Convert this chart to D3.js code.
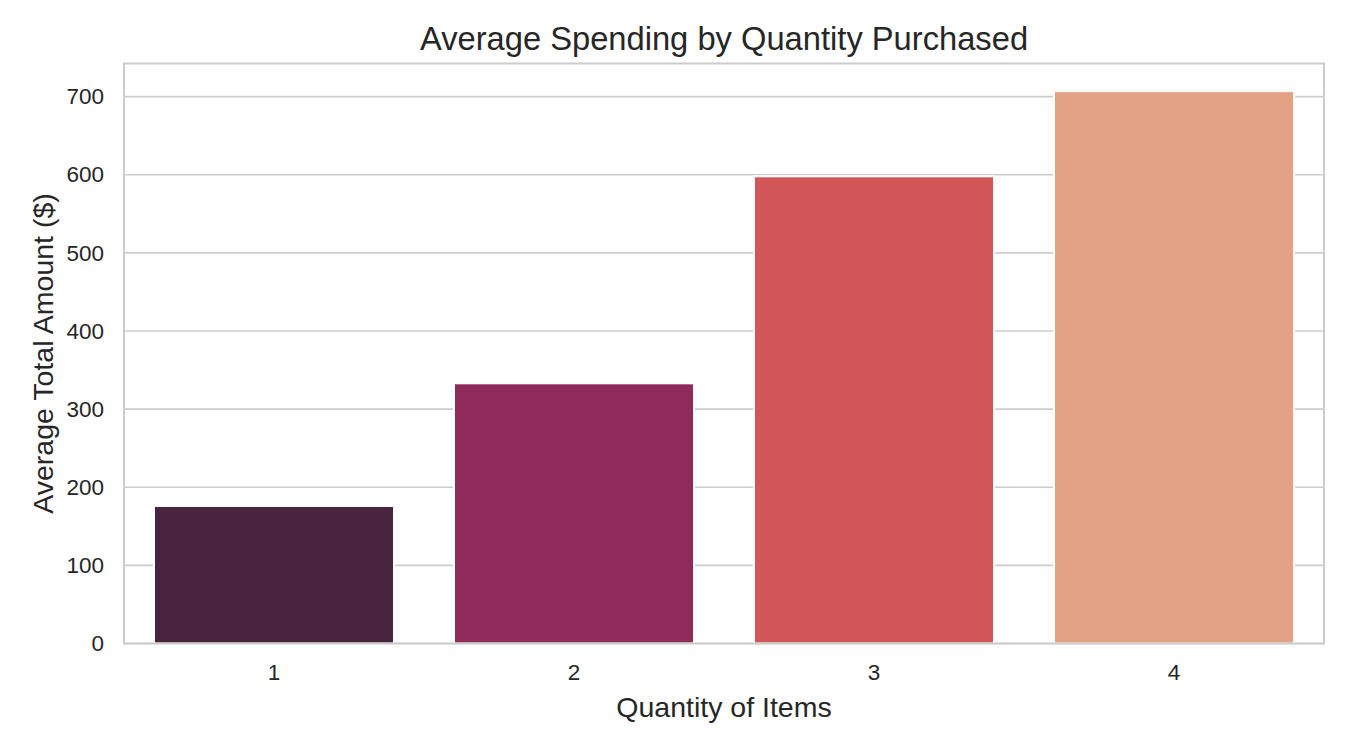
<!DOCTYPE html>
<html>
<head>
<meta charset="utf-8">
<script src="https://cdn.jsdelivr.net/npm/d3@7"></script>
<style>
  body { margin: 0; background: #fff; }
  svg text { font-family: "Liberation Sans", Arial, sans-serif; fill: #262626; }
</style>
</head>
<body>
<div id="chart"></div>
<script>
const quantities = ['1', '2', '3', '4'];
const avgAmounts = [176, 333, 598, 707];
const barColors = ['#48243f', '#8f2a5b', '#d25557', '#e3a283'];
const yTicks = [0, 100, 200, 300, 400, 500, 600, 700];

const width = 1350;
const height = 750;
const margin = { top: 63.5, right: 26, bottom: 106.5, left: 124 };
const innerW = width - margin.left - margin.right;
const innerH = height - margin.top - margin.bottom;

const svg = d3.select('#chart')
    .append('svg')
    .attr('width', width)
    .attr('height', height);

const g = svg.append('g')
    .attr('transform', `translate(${margin.left},${margin.top})`);

const xScale = d3.scaleBand()
    .domain(quantities)
    .range([0, innerW])
    .paddingInner(0.2)
    .paddingOuter(0.1);

const yScale = d3.scaleLinear()
    .domain([0, d3.max(avgAmounts) * 1.05])
    .range([innerH, 0]);

// grid lines
g.append('g')
    .selectAll('line')
    .data(yTicks)
    .enter()
    .append('line')
    .attr('x1', 0)
    .attr('x2', innerW)
    .attr('y1', d => yScale(d))
    .attr('y2', d => yScale(d))
    .attr('stroke', '#cccccc')
    .attr('stroke-width', 1.6);

// bars
g.selectAll('.bar')
    .data(avgAmounts)
    .enter()
    .append('rect')
    .attr('class', 'bar')
    .attr('x', (d, i) => xScale(quantities[i]))
    .attr('y', d => yScale(d))
    .attr('width', xScale.bandwidth())
    .attr('height', d => innerH - yScale(d))
    .attr('fill', (d, i) => barColors[i])
    .attr('stroke', '#ffffff')
    .attr('stroke-width', 2);

// spines
g.append('rect')
    .attr('x', 0)
    .attr('y', 0)
    .attr('width', innerW)
    .attr('height', innerH)
    .attr('fill', 'none')
    .attr('stroke', '#cccccc')
    .attr('stroke-width', 2);

const xAxis = d3.axisBottom(xScale).tickSize(0).tickPadding(21);
const yAxis = d3.axisLeft(yScale).tickValues(yTicks).tickSize(0).tickPadding(20);

const gx = g.append('g')
    .attr('transform', `translate(0,${innerH})`)
    .call(xAxis);
gx.select('.domain').remove();
gx.selectAll('text')
    .style('font-size', '22.5px')
    .attr('fill', '#262626');

const gy = g.append('g').call(yAxis);
gy.select('.domain').remove();
gy.selectAll('text')
    .style('font-size', '22.5px')
    .attr('fill', '#262626');

// axis labels
svg.append('text')
    .attr('x', margin.left + innerW / 2)
    .attr('y', 717)
    .attr('text-anchor', 'middle')
    .style('font-size', '28.5px')
    .text('Quantity of Items');

svg.append('text')
    .attr('transform', `translate(53,${margin.top + innerH / 2}) rotate(-90)`)
    .attr('text-anchor', 'middle')
    .style('font-size', '28.5px')
    .text('Average Total Amount ($)');

// title
svg.append('text')
    .attr('x', margin.left + innerW / 2)
    .attr('y', 50)
    .attr('text-anchor', 'middle')
    .style('font-size', '32.7px')
    .text('Average Spending by Quantity Purchased');
</script>
</body>
</html>
